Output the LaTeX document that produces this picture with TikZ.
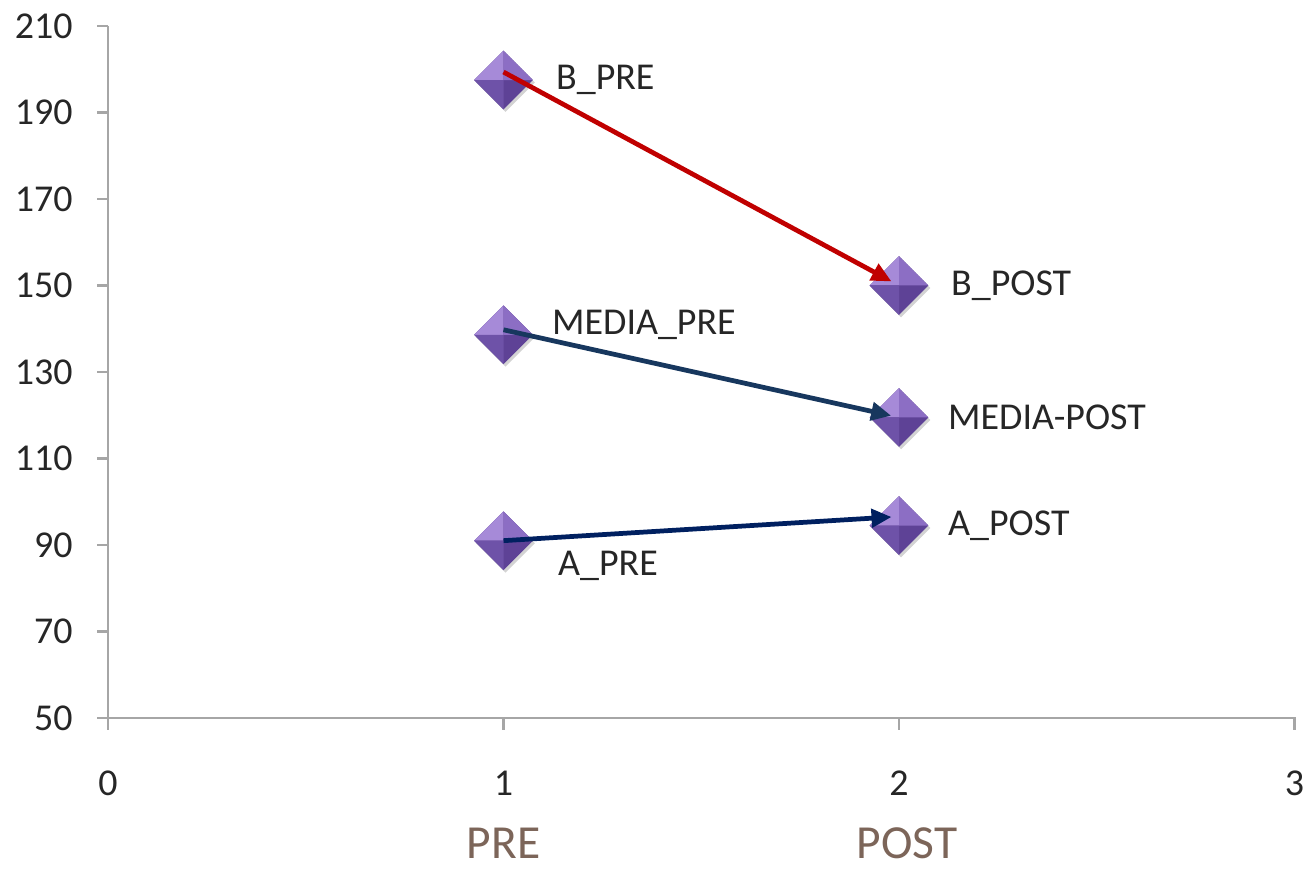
\documentclass[tikz,border=0pt]{standalone}
\usepackage{fontspec}
\setmainfont{Carlito}
\usetikzlibrary{positioning,shapes.geometric,arrows.meta,shadows}
\definecolor{axisgray}{RGB}{166,166,166}
\definecolor{catbrown}{RGB}{124,101,89}
\definecolor{bred}{RGB}{192,0,0}
\definecolor{mednavy}{RGB}{23,55,94}
\definecolor{anavy}{RGB}{0,32,96}
\definecolor{facetTL}{RGB}{166,138,216}
\definecolor{facetTR}{RGB}{140,110,196}
\definecolor{facetBL}{RGB}{110,82,168}
\definecolor{facetBR}{RGB}{94,66,150}
\tikzset{
  pt/.style={diamond, minimum size=1.18cm, inner sep=0pt, fill=facetBR,
    drop shadow={opacity=0.35, shadow xshift=0.04cm, shadow yshift=-0.05cm},
    path picture={
      \fill[facetTL] (path picture bounding box.center) -- (path picture bounding box.west)
        -- (path picture bounding box.north) -- cycle;
      \fill[facetTR] (path picture bounding box.center) -- (path picture bounding box.north)
        -- (path picture bounding box.east) -- cycle;
      \fill[facetBL] (path picture bounding box.center) -- (path picture bounding box.west)
        -- (path picture bounding box.south) -- cycle;
    }},
  lbl/.style={inner sep=0pt, text=black!85, font=\fontsize{21.6}{26}\selectfont},
  catlbl/.style={inner sep=0pt, text=catbrown, font=\fontsize{27}{32}\selectfont},
  move/.style={line width=2.7pt, -{Triangle[length=0.4cm,width=0.36cm]}}
}
\begin{document}
\begin{tikzpicture}
  \useasboundingbox (0,0) rectangle (26.14,17.4);
  \begin{scope}[shift={(2.16cm,-1.285cm)}, x=7.91cm, y=0.0865cm]
   % axes
   \draw[axisgray, line width=1.3pt] (0,210) -- (0,50) -- (3.005,50);
   \foreach \v in {50,70,...,210} {
     \draw[axisgray, line width=1.3pt] ([xshift=-0.22cm]0,\v) -- (0,\v);
     \node[lbl, anchor=east] (y\v) at ([xshift=-0.7cm]0,\v) {\v};
   }
   \foreach \x in {0,1,2,3} {
     \draw[axisgray, line width=1.3pt] (\x,50) -- ([yshift=-0.24cm]\x,50);
     \node[lbl] (x\x) at ([yshift=-1.3cm]\x,50) {\x};
   }
   \node[catlbl] (pre) at ([yshift=-2.5cm]1,50) {PRE};
   \node[catlbl] (post) at ([xshift=0.16cm,yshift=-2.5cm]2,50) {POST};
   % points
   \node[pt] (bpre) at (1,197.5) {};
   \node[pt] (mpre) at (1,138.6) {};
   \node[pt] (apre) at (1,91) {};
   \node[pt] (bpost) at (2,150) {};
   \node[pt] (mpost) at (2,119.5) {};
   \node[pt] (apost) at (2,94.5) {};
   \node[lbl, right=0.45cm of bpre] (lbpre) {B\_PRE};
   \node[lbl, right=0.37cm of mpre, yshift=0.2cm] (lmpre) {MEDIA\_PRE};
   \node[lbl, right=0.49cm of apre, yshift=-0.5cm] (lapre) {A\_PRE};
   \node[lbl, right=0.44cm of bpost] (lbpost) {B\_POST};
   \node[lbl, right=0.38cm of mpost] (lmpost) {MEDIA-POST};
   \node[lbl, right=0.38cm of apost] (lapost) {A\_POST};
   % changes
   \draw[move, bred, shorten >=0.17cm] ([yshift=0.16cm]bpre.center) -- (bpost.center);
   \draw[move, mednavy, shorten >=0.16cm] ([yshift=0.1cm]mpre.center) -- (mpost.center);
   \draw[move, anavy, shorten >=0.15cm] (apre.center) -- ([yshift=0.18cm]apost.center);
  \end{scope}
\end{tikzpicture}
\end{document}
